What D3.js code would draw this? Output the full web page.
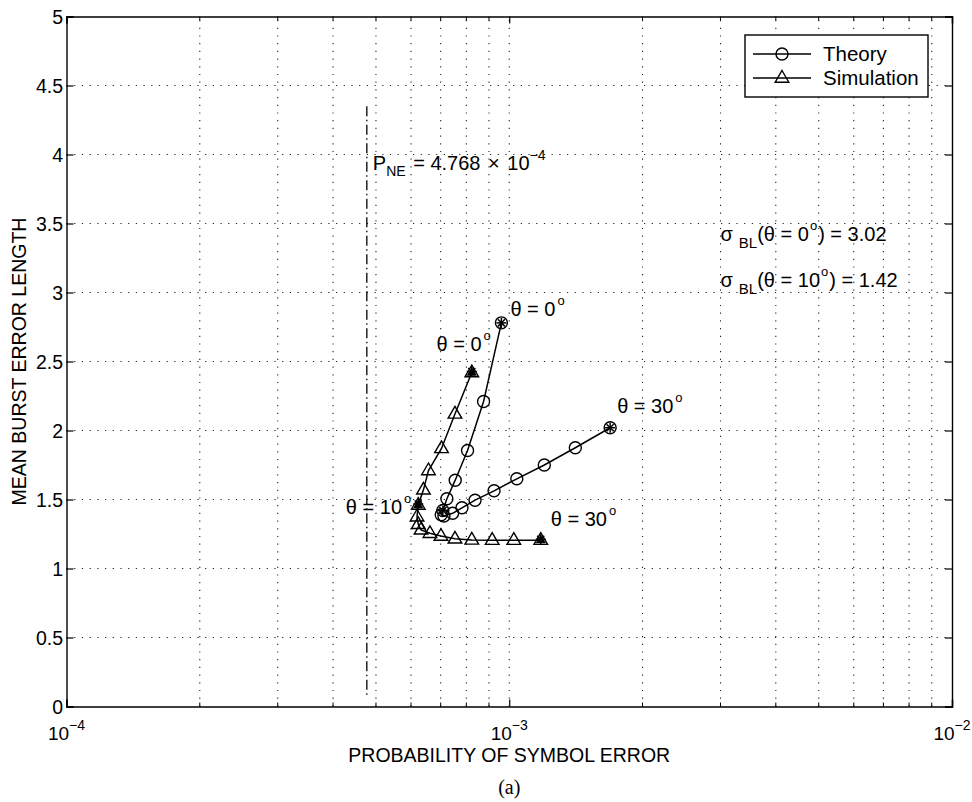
<!DOCTYPE html>
<html>
<head>
<meta charset="utf-8">
<script src="https://cdn.jsdelivr.net/npm/d3@7"></script>
<style>
  html, body { margin: 0; padding: 0; background: #ffffff; }
  svg { display: block; }
  text { font-family: "Liberation Sans", Arial, Helvetica, sans-serif; fill: #000; }
</style>
</head>
<body>
<svg id="chart" width="972" height="802"></svg>
<script>
// Burst-error statistics versus symbol error probability, θ = 0° … 30° in 2° steps
const thetaDeg = [0, 2, 4, 6, 8, 10, 12, 14, 16, 18, 20, 22, 24, 26, 28, 30];

const theoryPe = [9.60e-4, 8.75e-4, 8.05e-4, 7.55e-4, 7.23e-4, 7.08e-4, 7.02e-4, 7.12e-4,
                  7.45e-4, 7.82e-4, 8.37e-4, 9.24e-4, 1.04e-3, 1.20e-3, 1.41e-3, 1.69e-3];
const theoryBL = [2.78, 2.21, 1.855, 1.64, 1.505, 1.42, 1.39, 1.38,
                  1.40, 1.44, 1.495, 1.563, 1.65, 1.75, 1.875, 2.02];

const simPe = [8.23e-4, 7.54e-4, 7.03e-4, 6.57e-4, 6.40e-4, 6.23e-4, 6.19e-4, 6.23e-4,
               6.32e-4, 6.62e-4, 7.01e-4, 7.54e-4, 8.23e-4, 9.15e-4, 1.024e-3, 1.178e-3];
const simBL = [2.42, 2.12, 1.87, 1.71, 1.57, 1.46, 1.375, 1.32,
               1.28, 1.255, 1.235, 1.215, 1.207, 1.205, 1.205, 1.205];

// angles whose points are highlighted with an asterisk
const markedTheta = [0, 10, 30];

const pNE = 4.768e-4;
const pNETop = 4.35;

const xTickValues = [1e-4, 1e-3, 1e-2];
const xTickExp = ["\u22124", "\u22123", "\u22122"];
const yTickValues = [0, 0.5, 1, 1.5, 2, 2.5, 3, 3.5, 4, 4.5, 5];
const yTickLabels = ["0", "0.5", "1", "1.5", "2", "2.5", "3", "3.5", "4", "4.5", "5"];

const legendLabels = ["Theory", "Simulation"];

// ---------------------------------------------------------------------------
const svg = d3.select("#chart");
const plotL = 66.5, plotR = 952, plotT = 16.5, plotB = 706.5;

const x = d3.scaleLog().domain([1e-4, 1e-2]).range([plotL, plotR]);
const y = d3.scaleLinear().domain([0, 5]).range([plotB, plotT]);

const FONT = 20;

// grid: minor decades on x, every 0.5 on y
const xMinor = [];
for (let e = -4; e < -2; e++) {
  for (let k = 2; k <= 9; k++) xMinor.push(k * Math.pow(10, e));
}
const xGrid = xMinor.concat([1e-3]).sort((a, b) => a - b);

const grid = svg.append("g").attr("class", "grid")
  .attr("stroke", "#222").attr("stroke-width", 1.1)
  .attr("stroke-dasharray", "1.2,6.5");

grid.selectAll("line.gx").data(xGrid).join("line")
  .attr("class", "gx")
  .attr("x1", d => x(d)).attr("x2", d => x(d))
  .attr("y1", plotB).attr("y2", plotT);

grid.selectAll("line.gy").data(yTickValues.filter(v => v > 0 && v < 5)).join("line")
  .attr("class", "gy")
  .attr("x1", plotL).attr("x2", plotR)
  .attr("y1", d => y(d)).attr("y2", d => y(d));

// axes (ticks drawn inward)
const axisG = svg.append("g").attr("class", "axes");

const xAxisBottom = d3.axisBottom(x).tickValues(xTickValues).tickSize(-7).tickFormat("");
const xAxisTop = d3.axisTop(x).tickValues(xTickValues).tickSize(-7).tickFormat("");
const yAxisLeft = d3.axisLeft(y).tickValues(yTickValues).tickSize(-7).tickFormat("");
const yAxisRight = d3.axisRight(y).tickValues(yTickValues).tickSize(-7).tickFormat("");

function styleAxis(g) {
  g.selectAll("path.domain").attr("stroke", "#000").attr("stroke-width", 1.4);
  g.selectAll(".tick line").attr("stroke", "#000").attr("stroke-width", 1.2);
}
axisG.append("g").attr("transform", `translate(0,${plotB})`).call(xAxisBottom).call(styleAxis);
axisG.append("g").attr("transform", `translate(0,${plotT})`).call(xAxisTop).call(styleAxis);
axisG.append("g").attr("transform", `translate(${plotL},0)`).call(yAxisLeft).call(styleAxis);
axisG.append("g").attr("transform", `translate(${plotR},0)`).call(yAxisRight).call(styleAxis);

// minor ticks on the log axis
axisG.selectAll("line.mt").data(xMinor).join("line")
  .attr("class", "mt")
  .attr("x1", d => x(d)).attr("x2", d => x(d))
  .attr("y1", plotB).attr("y2", plotB - 4)
  .attr("stroke", "#000").attr("stroke-width", 1);
axisG.selectAll("line.mtt").data(xMinor).join("line")
  .attr("class", "mtt")
  .attr("x1", d => x(d)).attr("x2", d => x(d))
  .attr("y1", plotT).attr("y2", plotT + 4)
  .attr("stroke", "#000").attr("stroke-width", 1);

// tick labels
const yLab = svg.append("g").attr("class", "ylabels");
yTickValues.forEach((v, i) => {
  yLab.append("text")
    .attr("x", plotL - 3.5).attr("y", y(v) + 7)
    .attr("text-anchor", "end")
    .attr("font-size", 19.5)
    .text(yTickLabels[i]);
});

const xLab = svg.append("g").attr("class", "xlabels");
xTickValues.forEach((v, i) => {
  const t = xLab.append("text")
    .attr("x", x(v)).attr("y", plotB + 33)
    .attr("text-anchor", "middle")
    .attr("font-size", 19);
  t.append("tspan").text("10");
  t.append("tspan").attr("font-size", 14).attr("dy", -10).text(xTickExp[i]);
});

// axis titles
svg.append("text")
  .attr("x", (plotL + plotR) / 2).attr("y", 762)
  .attr("text-anchor", "middle").attr("font-size", 19.5)
  .text("PROBABILITY OF SYMBOL ERROR");

svg.append("text")
  .attr("transform", `translate(26,${(plotT + plotB) / 2}) rotate(-90)`)
  .attr("text-anchor", "middle").attr("font-size", 19.5)
  .text("MEAN BURST ERROR LENGTH");

svg.append("text")
  .attr("x", (plotL + plotR) / 2).attr("y", 794)
  .attr("text-anchor", "middle").attr("font-size", 20)
  .style("font-family", "'Liberation Serif', 'Times New Roman', serif")
  .text("(a)");

// no-error reference probability
svg.append("line")
  .attr("x1", x(pNE)).attr("x2", x(pNE))
  .attr("y1", y(pNETop)).attr("y2", y(0.06))
  .attr("stroke", "#000").attr("stroke-width", 1.3)
  .attr("stroke-dasharray", "10,3.5,1.5,3.5");

// series
const theory = thetaDeg.map((t, i) => ({ t, pe: theoryPe[i], bl: theoryBL[i] }));
const sim = thetaDeg.map((t, i) => ({ t, pe: simPe[i], bl: simBL[i] }));

const line = d3.line().x(d => x(d.pe)).y(d => y(d.bl));

const plot = svg.append("g").attr("class", "series");

plot.append("path").datum(theory).attr("d", line)
  .attr("fill", "none").attr("stroke", "#000").attr("stroke-width", 1.5);
plot.append("path").datum(sim).attr("d", line)
  .attr("fill", "none").attr("stroke", "#000").attr("stroke-width", 1.5);

const triPath = "M0,-7.5 L6.8,4.2 L-6.8,4.2 Z";

function circleMarker(g, cx, cy) {
  g.append("circle").attr("cx", cx).attr("cy", cy).attr("r", 6)
    .attr("fill", "none").attr("stroke", "#000").attr("stroke-width", 1.4);
}
function triangleMarker(g, cx, cy) {
  g.append("path").attr("d", triPath).attr("transform", `translate(${cx},${cy})`)
    .attr("fill", "none").attr("stroke", "#000").attr("stroke-width", 1.4);
}
function asteriskMarker(g, cx, cy, r) {
  const a = g.append("g").attr("transform", `translate(${cx},${cy})`)
    .attr("stroke", "#000").attr("stroke-width", 1.5);
  [0, 45, 90, 135].forEach(ang => {
    const rad = ang * Math.PI / 180;
    a.append("line")
      .attr("x1", -r * Math.cos(rad)).attr("y1", -r * Math.sin(rad))
      .attr("x2", r * Math.cos(rad)).attr("y2", r * Math.sin(rad));
  });
}

theory.forEach(d => {
  circleMarker(plot, x(d.pe), y(d.bl));
  if (markedTheta.includes(d.t)) asteriskMarker(plot, x(d.pe), y(d.bl), 5);
});
sim.forEach(d => {
  triangleMarker(plot, x(d.pe), y(d.bl));
  if (markedTheta.includes(d.t)) {
    plot.append("path").attr("d", triPath)
      .attr("transform", `translate(${x(d.pe)},${y(d.bl)}) scale(0.75)`)
      .attr("fill", "#000");
    asteriskMarker(plot, x(d.pe), y(d.bl) - 1, 5);
  }
});

// angle labels
function thetaLabel(px, py, anchor, deg) {
  const t = svg.append("text").attr("x", px).attr("y", py)
    .attr("text-anchor", anchor).attr("font-size", FONT);
  t.append("tspan").text(`\u03b8 = ${deg}`);
  t.append("tspan").attr("font-size", 13).attr("dy", -11).attr("dx", 2).text("o");
}
const thAt = (arr, deg) => arr.find(d => d.t === deg);
{
  const p = thAt(theory, 0);
  thetaLabel(x(p.pe) + 9, y(p.bl) - 7, "start", 0);
}
{
  const p = thAt(sim, 0);
  thetaLabel(x(p.pe) + 19, y(p.bl) - 22, "end", 0);
}
{
  const p = thAt(sim, 10);
  thetaLabel(x(p.pe) - 7, y(p.bl) + 9, "end", 10);
}
{
  const p = thAt(theory, 30);
  thetaLabel(x(p.pe) + 7, y(p.bl) - 15, "start", 30);
}
{
  const p = thAt(sim, 30);
  thetaLabel(x(p.pe) + 10, y(p.bl) - 14, "start", 30);
}

// P_NE annotation
{
  const t = svg.append("text").attr("x", x(pNE) + 6).attr("y", 170)
    .attr("font-size", FONT);
  t.append("tspan").text("P");
  t.append("tspan").attr("font-size", 14).attr("dy", 6).text("NE");
  t.append("tspan").attr("dy", -6).attr("dx", 2).text(" = 4.768 ");
  t.append("tspan").attr("dx", 2).text("\u00d7");
  t.append("tspan").attr("dx", 2).text(" 10");
  t.append("tspan").attr("font-size", 14).attr("dy", -10).text("\u22124");
}

// standard deviation annotations
function sigmaLabel(px, py, deg, val) {
  const t = svg.append("text").attr("x", px).attr("y", py).attr("font-size", FONT);
  t.append("tspan").text("\u03c3");
  t.append("tspan").attr("font-size", 15).attr("dy", 7).attr("dx", 6).text("BL");
  t.append("tspan").attr("dy", -7).text(`(\u03b8 = ${deg}`);
  t.append("tspan").attr("font-size", 13).attr("dy", -11).attr("dx", 1).text("o");
  t.append("tspan").attr("dy", 11).attr("dx", 1).text(`) = ${val}`);
}
sigmaLabel(x(3e-3), 241, 0, "3.02");
sigmaLabel(x(3e-3), 287, 10, "1.42");

// legend
{
  const lx0 = 745, lx1 = 928, ly0 = 35, ly1 = 97;
  const lg = svg.append("g").attr("class", "legend");
  lg.append("rect").attr("x", lx0).attr("y", ly0)
    .attr("width", lx1 - lx0).attr("height", ly1 - ly0)
    .attr("fill", "#fff").attr("stroke", "#000").attr("stroke-width", 1.4);
  const rows = [ly0 + 19, ly0 + 43];
  legendLabels.forEach((lab, i) => {
    const cy = rows[i];
    lg.append("line").attr("x1", lx0 + 8).attr("x2", lx0 + 66)
      .attr("y1", cy).attr("y2", cy).attr("stroke", "#000").attr("stroke-width", 1.5);
    if (i === 0) circleMarker(lg, lx0 + 37, cy);
    else triangleMarker(lg, lx0 + 37, cy);
    lg.append("text").attr("x", 823).attr("y", cy + 7)
      .attr("font-size", 20.5).text(lab);
  });
}
</script>
</body>
</html>
